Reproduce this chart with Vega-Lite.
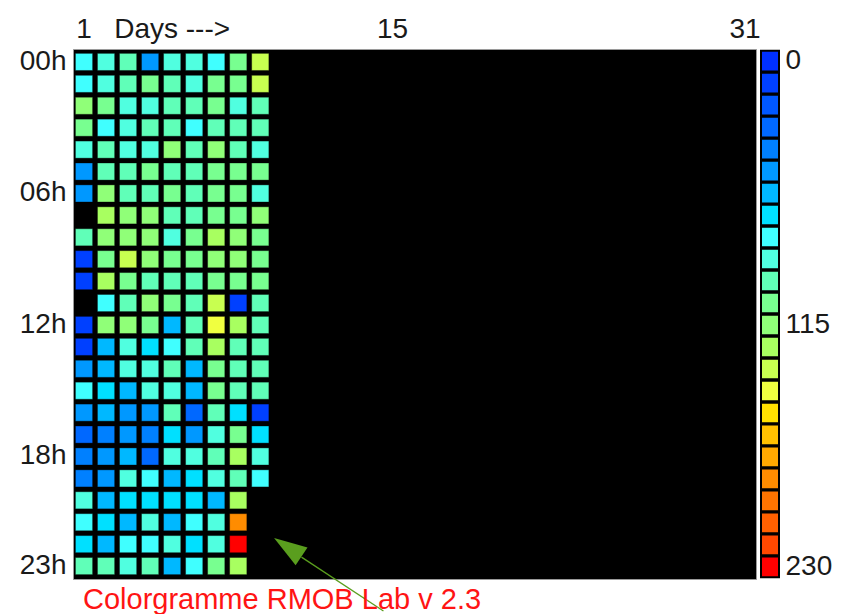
{
  "$schema": "https://vega.github.io/schema/vega-lite/v6.json",
  "background": "white",
  "padding": {"left": 18, "top": 14, "right": 0, "bottom": 0},
  "spacing": 5,
  "bounds": "flush",
  "config": {
    "font": "Liberation Sans",
    "axis": {"labelFont": "Liberation Sans", "labelFontSize": 28, "labelColor": "#1a1a1a", "labelFontWeight": "normal"},
    "concat": {"spacing": 5}
  },
  "title": {
    "text": "Colorgramme RMOB Lab v 2.3",
    "orient": "bottom",
    "anchor": "start",
    "frame": "group",
    "color": "#FF1414",
    "font": "Liberation Sans",
    "fontSize": 29,
    "fontWeight": "normal",
    "dx": 10,
    "offset": -26
  },
  "datasets": {
    "cells": [
      {"day":1,"hour":0,"value":80},{"day":2,"hour":0,"value":90},{"day":3,"hour":0,"value":100},{"day":4,"hour":0,"value":50},{"day":5,"hour":0,"value":90},{"day":6,"hour":0,"value":90},{"day":7,"hour":0,"value":80},{"day":8,"hour":0,"value":110},{"day":9,"hour":0,"value":140},
      {"day":1,"hour":1,"value":80},{"day":2,"hour":1,"value":90},{"day":3,"hour":1,"value":100},{"day":4,"hour":1,"value":110},{"day":5,"hour":1,"value":100},{"day":6,"hour":1,"value":90},{"day":7,"hour":1,"value":110},{"day":8,"hour":1,"value":110},{"day":9,"hour":1,"value":140},
      {"day":1,"hour":2,"value":120},{"day":2,"hour":2,"value":110},{"day":3,"hour":2,"value":90},{"day":4,"hour":2,"value":90},{"day":5,"hour":2,"value":100},{"day":6,"hour":2,"value":100},{"day":7,"hour":2,"value":110},{"day":8,"hour":2,"value":90},{"day":9,"hour":2,"value":100},
      {"day":1,"hour":3,"value":110},{"day":2,"hour":3,"value":80},{"day":3,"hour":3,"value":90},{"day":4,"hour":3,"value":100},{"day":5,"hour":3,"value":100},{"day":6,"hour":3,"value":80},{"day":7,"hour":3,"value":100},{"day":8,"hour":3,"value":100},{"day":9,"hour":3,"value":100},
      {"day":1,"hour":4,"value":90},{"day":2,"hour":4,"value":100},{"day":3,"hour":4,"value":90},{"day":4,"hour":4,"value":90},{"day":5,"hour":4,"value":120},{"day":6,"hour":4,"value":100},{"day":7,"hour":4,"value":120},{"day":8,"hour":4,"value":100},{"day":9,"hour":4,"value":90},
      {"day":1,"hour":5,"value":50},{"day":2,"hour":5,"value":100},{"day":3,"hour":5,"value":100},{"day":4,"hour":5,"value":110},{"day":5,"hour":5,"value":100},{"day":6,"hour":5,"value":100},{"day":7,"hour":5,"value":110},{"day":8,"hour":5,"value":110},{"day":9,"hour":5,"value":110},
      {"day":1,"hour":6,"value":50},{"day":2,"hour":6,"value":120},{"day":3,"hour":6,"value":100},{"day":4,"hour":6,"value":100},{"day":5,"hour":6,"value":110},{"day":6,"hour":6,"value":100},{"day":7,"hour":6,"value":110},{"day":8,"hour":6,"value":110},{"day":9,"hour":6,"value":90},
      {"day":2,"hour":7,"value":130},{"day":3,"hour":7,"value":120},{"day":4,"hour":7,"value":120},{"day":5,"hour":7,"value":100},{"day":6,"hour":7,"value":100},{"day":7,"hour":7,"value":110},{"day":8,"hour":7,"value":110},{"day":9,"hour":7,"value":120},
      {"day":1,"hour":8,"value":100},{"day":2,"hour":8,"value":120},{"day":3,"hour":8,"value":120},{"day":4,"hour":8,"value":120},{"day":5,"hour":8,"value":90},{"day":6,"hour":8,"value":110},{"day":7,"hour":8,"value":130},{"day":8,"hour":8,"value":120},{"day":9,"hour":8,"value":110},
      {"day":1,"hour":9,"value":10},{"day":2,"hour":9,"value":110},{"day":3,"hour":9,"value":140},{"day":4,"hour":9,"value":120},{"day":5,"hour":9,"value":110},{"day":6,"hour":9,"value":110},{"day":7,"hour":9,"value":120},{"day":8,"hour":9,"value":120},{"day":9,"hour":9,"value":110},
      {"day":1,"hour":10,"value":10},{"day":2,"hour":10,"value":130},{"day":3,"hour":10,"value":110},{"day":4,"hour":10,"value":100},{"day":5,"hour":10,"value":100},{"day":6,"hour":10,"value":100},{"day":7,"hour":10,"value":110},{"day":8,"hour":10,"value":110},{"day":9,"hour":10,"value":110},
      {"day":2,"hour":11,"value":80},{"day":3,"hour":11,"value":100},{"day":4,"hour":11,"value":120},{"day":5,"hour":11,"value":110},{"day":6,"hour":11,"value":100},{"day":7,"hour":11,"value":140},{"day":8,"hour":11,"value":10},{"day":9,"hour":11,"value":100},
      {"day":1,"hour":12,"value":10},{"day":2,"hour":12,"value":120},{"day":3,"hour":12,"value":120},{"day":4,"hour":12,"value":110},{"day":5,"hour":12,"value":60},{"day":6,"hour":12,"value":100},{"day":7,"hour":12,"value":150},{"day":8,"hour":12,"value":130},{"day":9,"hour":12,"value":100},
      {"day":1,"hour":13,"value":10},{"day":2,"hour":13,"value":60},{"day":3,"hour":13,"value":90},{"day":4,"hour":13,"value":70},{"day":5,"hour":13,"value":80},{"day":6,"hour":13,"value":100},{"day":7,"hour":13,"value":130},{"day":8,"hour":13,"value":100},{"day":9,"hour":13,"value":100},
      {"day":1,"hour":14,"value":50},{"day":2,"hour":14,"value":60},{"day":3,"hour":14,"value":90},{"day":4,"hour":14,"value":90},{"day":5,"hour":14,"value":100},{"day":6,"hour":14,"value":60},{"day":7,"hour":14,"value":110},{"day":8,"hour":14,"value":100},{"day":9,"hour":14,"value":100},
      {"day":1,"hour":15,"value":80},{"day":2,"hour":15,"value":70},{"day":3,"hour":15,"value":60},{"day":4,"hour":15,"value":90},{"day":5,"hour":15,"value":90},{"day":6,"hour":15,"value":60},{"day":7,"hour":15,"value":110},{"day":8,"hour":15,"value":100},{"day":9,"hour":15,"value":100},
      {"day":1,"hour":16,"value":50},{"day":2,"hour":16,"value":60},{"day":3,"hour":16,"value":50},{"day":4,"hour":16,"value":50},{"day":5,"hour":16,"value":100},{"day":6,"hour":16,"value":30},{"day":7,"hour":16,"value":100},{"day":8,"hour":16,"value":70},{"day":9,"hour":16,"value":10},
      {"day":1,"hour":17,"value":30},{"day":2,"hour":17,"value":40},{"day":3,"hour":17,"value":50},{"day":4,"hour":17,"value":40},{"day":5,"hour":17,"value":70},{"day":6,"hour":17,"value":50},{"day":7,"hour":17,"value":90},{"day":8,"hour":17,"value":110},{"day":9,"hour":17,"value":70},
      {"day":1,"hour":18,"value":40},{"day":2,"hour":18,"value":50},{"day":3,"hour":18,"value":60},{"day":4,"hour":18,"value":30},{"day":5,"hour":18,"value":90},{"day":6,"hour":18,"value":90},{"day":7,"hour":18,"value":100},{"day":8,"hour":18,"value":130},{"day":9,"hour":18,"value":90},
      {"day":1,"hour":19,"value":40},{"day":2,"hour":19,"value":50},{"day":3,"hour":19,"value":90},{"day":4,"hour":19,"value":80},{"day":5,"hour":19,"value":60},{"day":6,"hour":19,"value":70},{"day":7,"hour":19,"value":90},{"day":8,"hour":19,"value":100},{"day":9,"hour":19,"value":80},
      {"day":1,"hour":20,"value":90},{"day":2,"hour":20,"value":60},{"day":3,"hour":20,"value":70},{"day":4,"hour":20,"value":70},{"day":5,"hour":20,"value":70},{"day":6,"hour":20,"value":70},{"day":7,"hour":20,"value":60},{"day":8,"hour":20,"value":130},
      {"day":1,"hour":21,"value":80},{"day":2,"hour":21,"value":70},{"day":3,"hour":21,"value":60},{"day":4,"hour":21,"value":90},{"day":5,"hour":21,"value":60},{"day":6,"hour":21,"value":80},{"day":7,"hour":21,"value":90},{"day":8,"hour":21,"value":190},
      {"day":1,"hour":22,"value":70},{"day":2,"hour":22,"value":60},{"day":3,"hour":22,"value":80},{"day":4,"hour":22,"value":80},{"day":5,"hour":22,"value":90},{"day":6,"hour":22,"value":70},{"day":7,"hour":22,"value":90},{"day":8,"hour":22,"value":230},
      {"day":1,"hour":23,"value":100},{"day":2,"hour":23,"value":100},{"day":3,"hour":23,"value":90},{"day":4,"hour":23,"value":100},{"day":5,"hour":23,"value":60},{"day":6,"hour":23,"value":80},{"day":7,"hour":23,"value":110},{"day":8,"hour":23,"value":130}
    ],
    "levels": [
      {"level":0},{"level":10},{"level":20},{"level":30},{"level":40},{"level":50},{"level":60},{"level":70},
      {"level":80},{"level":90},{"level":100},{"level":110},{"level":120},{"level":130},{"level":140},{"level":150},
      {"level":160},{"level":170},{"level":180},{"level":190},{"level":200},{"level":210},{"level":220},{"level":230}
    ],
    "arrowLine": [{"x":10.87,"y":22.51,"x2":14.59,"y2":24.95}],
    "arrowHead": [{"x":10.25,"y":22.06}]
  },
  "hconcat": [
    {
      "width": 683,
      "height": 530,
      "view": {"fill": "black", "stroke": "#9a9a9a", "strokeWidth": 1},
      "layer": [
        {
          "data": {"name": "cells"},
          "mark": {"type": "rect", "stroke": "#000000", "strokeOpacity": 0.35, "strokeWidth": 1},
          "encoding": {
            "x": {
              "field": "day", "type": "ordinal",
              "scale": {"domain": [1,2,3,4,5,6,7,8,9,10,11,12,13,14,15,16,17,18,19,20,21,22,23,24,25,26,27,28,29,30,31], "paddingInner": 0.22, "paddingOuter": 0.11},
              "axis": {
                "orient": "top", "title": null, "ticks": false, "domain": false, "labelAngle": 0,
                "labelPadding": 6, "labelOverlap": false,
                "labelExpr": "datum.value == 1 ? '1' : datum.value == 5 ? 'Days --->' : datum.value == 15 ? '15' : datum.value == 31 ? '31' : ''"
              }
            },
            "y": {
              "field": "hour", "type": "ordinal",
              "scale": {"domain": [0,1,2,3,4,5,6,7,8,9,10,11,12,13,14,15,16,17,18,19,20,21,22,23], "paddingInner": 0.22, "paddingOuter": 0.2},
              "axis": {
                "title": null, "ticks": false, "domain": false, "labelPadding": 7, "labelOverlap": false,
                "labelExpr": "datum.value == 0 ? '00h' : datum.value == 6 ? '06h' : datum.value == 12 ? '12h' : datum.value == 18 ? '18h' : datum.value == 23 ? '23h' : ''"
              }
            },
            "color": {
              "field": "value", "type": "quantitative",
              "scale": {"type": "quantize", "domain": [0, 240], "nice": false, "range": ["#0030FF","#0040FF","#0058FF","#0068FF","#0080FF","#0098FF","#00B8FF","#00E0FF","#40FFFF","#50FFE0","#60FFB8","#78FF90","#90FF78","#A8FF60","#C8FF50","#F0FF40","#FFE000","#FFC000","#FFA800","#FF8C00","#FF7400","#FF6000","#FF4800","#FF0000"]},
              "legend": null
            }
          }
        },
        {
          "data": {"name": "arrowLine"},
          "mark": {"type": "rule", "color": "#5A9E1E", "strokeWidth": 1.3},
          "encoding": {
            "x": {"field": "x", "type": "quantitative", "scale": {"domain": [0.5, 31.5], "nice": false, "zero": false}, "axis": null},
            "y": {"field": "y", "type": "quantitative", "scale": {"domain": [-0.5, 23.5], "nice": false, "zero": false, "reverse": true}, "axis": null},
            "x2": {"field": "x2"},
            "y2": {"field": "y2"}
          }
        },
        {
          "data": {"name": "arrowHead"},
          "mark": {"type": "point", "shape": "M0,-1L0.65,1L-0.65,1Z", "filled": true, "opacity": 1, "color": "#5A9E1E", "size": 1089, "angle": 303.6},
          "encoding": {
            "x": {"field": "x", "type": "quantitative", "scale": {"domain": [0.5, 31.5], "nice": false, "zero": false}, "axis": null},
            "y": {"field": "y", "type": "quantitative", "scale": {"domain": [-0.5, 23.5], "nice": false, "zero": false, "reverse": true}, "axis": null}
          }
        }
      ],
      "resolve": {"scale": {"x": "independent", "y": "independent"}}
    },
    {
      "width": 18,
      "height": 530,
      "view": {"stroke": null, "fill": null},
      "data": {"name": "levels"},
      "mark": {"type": "rect", "stroke": "#000000", "strokeWidth": 2},
      "encoding": {
        "y": {
          "field": "level", "type": "ordinal",
          "scale": {"paddingInner": 0.06, "paddingOuter": 0.08},
          "axis": {
            "orient": "right", "title": null, "ticks": false, "domain": false, "labelPadding": 6, "labelOverlap": false,
            "labelExpr": "datum.value == 0 ? '0' : datum.value == 120 ? '115' : datum.value == 230 ? '230' : ''"
          }
        },
        "color": {
          "field": "level", "type": "quantitative",
          "scale": {"type": "quantize", "domain": [0, 240], "nice": false, "range": ["#0030FF","#0040FF","#0058FF","#0068FF","#0080FF","#0098FF","#00B8FF","#00E0FF","#40FFFF","#50FFE0","#60FFB8","#78FF90","#90FF78","#A8FF60","#C8FF50","#F0FF40","#FFE000","#FFC000","#FFA800","#FF8C00","#FF7400","#FF6000","#FF4800","#FF0000"]},
          "legend": null
        }
      }
    }
  ],
  "resolve": {"scale": {"color": "independent"}}
}
